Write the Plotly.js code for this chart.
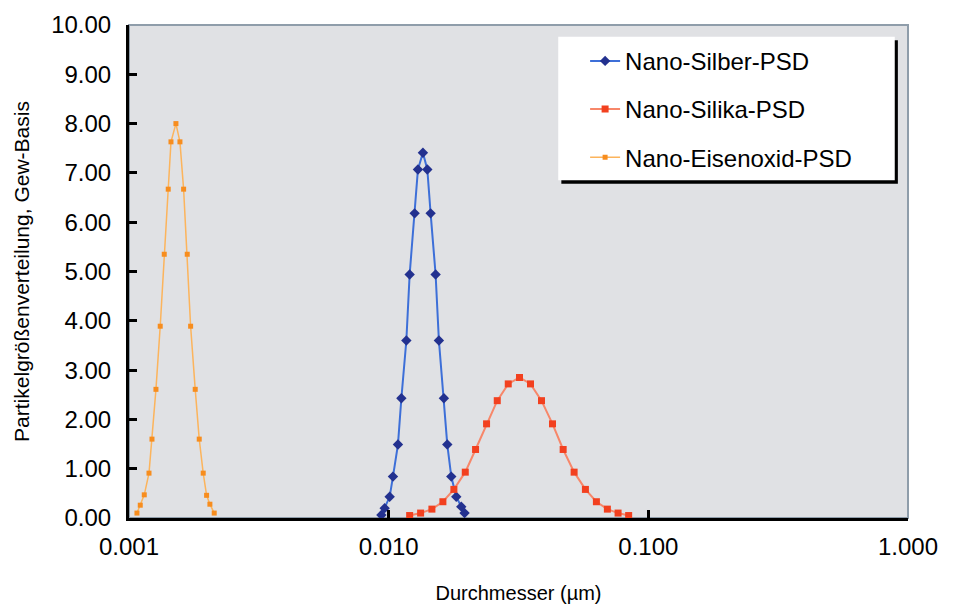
<!DOCTYPE html>
<html>
<head>
<meta charset="utf-8">
<script src="https://cdn.plot.ly/plotly-3.0.1.min.js"></script>
<style>
  html, body { margin: 0; padding: 0; background: #ffffff; }
  #chart { width: 957px; height: 610px; }
</style>
</head>
<body>
<div id="chart"></div>
<script>
// Particle size distributions (weight basis) of three nano powders
const silberD = [0.009374, 0.009652, 0.010089, 0.010388, 0.010859, 0.011192, 0.011698, 0.012045,
  0.012589, 0.012963, 0.013549, 0.014088, 0.014506, 0.015163, 0.015612, 0.016319, 0.016818,
  0.017424, 0.018212, 0.019037, 0.019601];
const silberPSD = [0.06, 0.20, 0.43, 0.84, 1.49, 2.43, 3.60, 4.94, 6.18, 7.07, 7.41, 7.07,
  6.18, 4.94, 3.60, 2.43, 1.49, 0.84, 0.43, 0.23, 0.10];

const silikaD = [0.012045, 0.013275, 0.014674, 0.016175, 0.017832, 0.019724, 0.021609, 0.023823,
  0.026193, 0.028875, 0.031911, 0.035177, 0.038776, 0.042748, 0.046987, 0.051786, 0.057240,
  0.063096, 0.069551, 0.076460, 0.083991];
const silikaPSD = [0.05, 0.10, 0.18, 0.33, 0.58, 0.93, 1.39, 1.91, 2.38, 2.72, 2.85, 2.72,
  2.38, 1.91, 1.39, 0.93, 0.58, 0.33, 0.18, 0.10, 0.05];

const eisenD = [0.001073, 0.001105, 0.001145, 0.001194, 0.001226, 0.001270, 0.001319, 0.001367,
  0.001416, 0.001451, 0.001516, 0.001571, 0.001623, 0.001676, 0.001727, 0.001799, 0.001864,
  0.001931, 0.001990, 0.002049, 0.002129];
const eisenPSD = [0.10, 0.26, 0.47, 0.91, 1.60, 2.61, 3.89, 5.35, 6.67, 7.63, 8.00, 7.63,
  6.67, 5.35, 3.89, 2.61, 1.60, 0.91, 0.46, 0.28, 0.10];

const seriesNames = ['Nano-Silber-PSD', 'Nano-Silika-PSD', 'Nano-Eisenoxid-PSD'];

const xTickVals = [0.001, 0.01, 0.1, 1];
const xTickText = ['0.001', '0.010', '0.100', '1.000'];

const FONT = 'Liberation Sans, Arial, Helvetica, sans-serif';

const traces = [
  {
    x: silberD, y: silberPSD, name: seriesNames[0], legendgroup: 'a',
    type: 'scatter', mode: 'lines+markers',
    line: { color: '#3d6fd8', width: 2 },
    marker: { symbol: 'diamond', size: 8, color: '#23318f' }
  },
  {
    x: silikaD, y: silikaPSD, name: seriesNames[1], legendgroup: 'b',
    type: 'scatter', mode: 'lines+markers',
    line: { color: '#f7876a', width: 2 },
    marker: { symbol: 'square', size: 7, color: '#f2401f' }
  },
  {
    x: eisenD, y: eisenPSD, name: seriesNames[2], legendgroup: 'c',
    type: 'scatter', mode: 'lines+markers',
    line: { color: '#fcb45c', width: 1.5 },
    marker: { symbol: 'square', size: 5, color: '#f78d1e' }
  }
];

// legend box with a dark drop shadow on the right and bottom
const lgX0 = 0.551, lgX1 = 0.983, lgY0 = 0.685, lgY1 = 0.976;

const layout = {
  width: 957, height: 610,
  margin: { l: 129, r: 49, t: 25, b: 92 },
  paper_bgcolor: '#ffffff',
  plot_bgcolor: '#e0e1e4',
  font: { family: FONT, color: '#000000', size: 24 },
  showlegend: true,
  legend: {
    x: 0.5855, y: 0.972, xanchor: 'left', yanchor: 'top',
    bgcolor: 'rgba(0,0,0,0)', borderwidth: 0,
    font: { family: FONT, size: 24, color: '#000000' },
    tracegroupgap: 14, traceorder: 'grouped', itemwidth: 30
  },
  xaxis: {
    type: 'log', range: [-3, 0],
    tickmode: 'array', tickvals: xTickVals, ticktext: xTickText,
    ticks: 'inside', ticklen: 8, tickwidth: 3, tickcolor: '#000000',
    showline: true, linecolor: '#000000', linewidth: 3,
    showgrid: false, zeroline: false,
    tickfont: { family: FONT, size: 24 },
    ticklabelstandoff: 5,
    title: { text: 'Durchmesser (µm)', font: { family: FONT, size: 20 }, standoff: 28 }
  },
  yaxis: {
    range: [0, 10], dtick: 1, tickformat: '.2f',
    ticks: 'inside', ticklen: 8, tickwidth: 3, tickcolor: '#000000',
    showline: true, linecolor: '#000000', linewidth: 3,
    showgrid: false, zeroline: false,
    tickfont: { family: FONT, size: 24 },
    ticklabelstandoff: 10,
    title: { text: 'Partikelgrößenverteilung, Gew-Basis', font: { family: FONT, size: 21 }, standoff: 16 }
  },
  shapes: [
    { type: 'rect', xref: 'paper', yref: 'paper', x0: 0, x1: 1, y0: 0, y1: 1,
      line: { color: '#8f9daa', width: 2 }, fillcolor: 'rgba(0,0,0,0)', layer: 'below' },
    { type: 'rect', xref: 'paper', yref: 'paper', x0: lgX0 + 0.004, x1: lgX1 + 0.004, y0: lgY0 - 0.007, y1: lgY1 - 0.007,
      line: { width: 0 }, fillcolor: '#000000', layer: 'above' },
    { type: 'rect', xref: 'paper', yref: 'paper', x0: lgX0, x1: lgX1, y0: lgY0, y1: lgY1,
      line: { width: 0 }, fillcolor: '#ffffff', layer: 'above' }
  ]
};

Plotly.newPlot('chart', traces, layout, { displayModeBar: false, staticPlot: true });
</script>
</body>
</html>
